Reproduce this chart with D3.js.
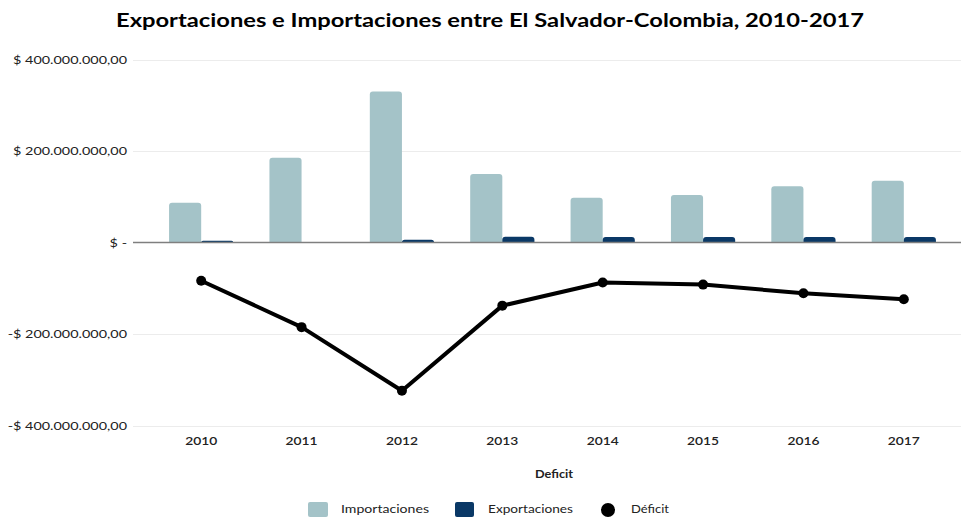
<!DOCTYPE html>
<html>
<head>
<meta charset="utf-8">
<script src="https://cdn.jsdelivr.net/npm/d3@7"></script>
<style>
  body { margin: 0; background: #fff; }
  svg { display: block; font-family: Lato, "Open Sans", sans-serif; }
</style>
</head>
<body>
<svg id="chart" width="961" height="518"></svg>
<script>
// Trade between El Salvador and Colombia, USD
const years = ["2010", "2011", "2012", "2013", "2014", "2015", "2016", "2017"];
const importaciones = [87e6, 185.5e6, 330e6, 150e6, 98e6, 104e6, 123e6, 135e6];
const exportaciones = [4e6, 0.5e6, 6e6, 12.5e6, 12e6, 12e6, 12e6, 12e6];
const deficit = [-83.5e6, -185e6, -324e6, -138e6, -87.5e6, -92e6, -111e6, -124e6];
const yTicks = [400e6, 200e6, 0, -200e6, -400e6];

const svg = d3.select("#chart");
const plotLeft = 133, plotRight = 961, plotTop = 59.5, plotBottom = 425.5;

const x = d3.scaleBand().domain(years).range([151, 954]).paddingInner(0.36).paddingOuter(0.18);
const x0 = d3.scaleBand().domain(years).range([151, 954]);
const y = d3.scaleLinear().domain([-400e6, 400e6]).range([plotBottom, plotTop]);

const fmt = v => {
  if (v === 0) return "$ -";
  const s = d3.format(",.2f")(Math.abs(v)).replace(/,/g, "#").replace(/\./g, ",").replace(/#/g, ".");
  return (v < 0 ? "-$ " : "$ ") + s;
};

// Widen text horizontally (the chart's labels use a wide face)
function widen(sel, k) {
  sel.each(function () {
    const len = this.getComputedTextLength();
    d3.select(this).attr("textLength", len * k).attr("lengthAdjust", "spacingAndGlyphs");
  });
}

// Title
svg.append("text")
  .attr("x", 490).attr("y", 27)
  .attr("text-anchor", "middle")
  .attr("font-size", 19).attr("font-weight", 700).attr("fill", "#000")
  .attr("textLength", 748).attr("lengthAdjust", "spacingAndGlyphs")
  .text("Exportaciones e Importaciones entre El Salvador-Colombia, 2010-2017");

// Gridlines
svg.append("g").selectAll("line")
  .data(yTicks.filter(d => d !== 0))
  .join("line")
  .attr("x1", plotLeft).attr("x2", plotRight)
  .attr("y1", d => Math.round(y(d)) + 0.5).attr("y2", d => Math.round(y(d)) + 0.5)
  .attr("stroke", "#ececec").attr("stroke-width", 1);

// Y tick labels
svg.append("g").selectAll("text")
  .data(yTicks)
  .join("text")
  .attr("x", 127).attr("y", d => y(d) + 4)
  .attr("text-anchor", "end")
  .attr("font-size", 12).attr("fill", "#222")
  .text(fmt)
  .call(widen, 1.2);

const bw = x.bandwidth() / 2;

// Rounded-top bar path
function barPath(x1, w, v) {
  const y0 = y(0), y1 = y(v);
  const h = y0 - y1;
  const r = Math.min(3, h, w / 2);
  return `M${x1},${y0}V${y1 + r}Q${x1},${y1} ${x1 + r},${y1}H${x1 + w - r}Q${x1 + w},${y1} ${x1 + w},${y1 + r}V${y0}Z`;
}

svg.append("g").selectAll("path")
  .data(years)
  .join("path")
  .attr("d", (d, i) => barPath(x(d), bw, importaciones[i]))
  .attr("fill", "#a4c3c8");

svg.append("g").selectAll("path")
  .data(years)
  .join("path")
  .attr("d", (d, i) => barPath(x(d) + bw, bw, exportaciones[i]))
  .attr("fill", "#0a3866");

// Zero axis
svg.append("line")
  .attr("x1", plotLeft).attr("x2", plotRight)
  .attr("y1", y(0)).attr("y2", y(0))
  .attr("stroke", "#7f7f7f").attr("stroke-width", 1.5);

// X tick labels
svg.append("g").selectAll("text")
  .data(years)
  .join("text")
  .attr("x", d => x0(d) + x0.bandwidth() / 2)
  .attr("y", 445)
  .attr("text-anchor", "middle")
  .attr("font-size", 12).attr("font-weight", 600).attr("fill", "#222")
  .text(d => d)
  .call(widen, 1.15);

// Deficit line
const line = d3.line()
  .x((d, i) => x0(years[i]) + x0.bandwidth() / 2)
  .y(d => y(d));

svg.append("path")
  .datum(deficit)
  .attr("d", line)
  .attr("fill", "none")
  .attr("stroke", "#000").attr("stroke-width", 4)
  .attr("stroke-linejoin", "round");

svg.append("g").selectAll("circle")
  .data(deficit)
  .join("circle")
  .attr("cx", (d, i) => x0(years[i]) + x0.bandwidth() / 2)
  .attr("cy", d => y(d))
  .attr("r", 5)
  .attr("fill", "#000");

// Axis title
svg.append("text")
  .attr("x", 554).attr("y", 478)
  .attr("text-anchor", "middle")
  .attr("font-size", 11).attr("font-weight", 700).attr("fill", "#222")
  .attr("textLength", 38).attr("lengthAdjust", "spacingAndGlyphs")
  .text("Deficit");

// Legend
const lg = svg.append("g").attr("font-size", 12).attr("fill", "#222");
lg.append("rect").attr("x", 308).attr("y", 502).attr("width", 20).attr("height", 15).attr("rx", 2).attr("fill", "#a4c3c8");
lg.append("text").attr("x", 341).attr("y", 513).attr("textLength", 88).attr("lengthAdjust", "spacingAndGlyphs").text("Importaciones");
lg.append("rect").attr("x", 455).attr("y", 502).attr("width", 19).attr("height", 15).attr("rx", 2).attr("fill", "#0a3866");
lg.append("text").attr("x", 488).attr("y", 513).attr("textLength", 85).attr("lengthAdjust", "spacingAndGlyphs").text("Exportaciones");
lg.append("circle").attr("cx", 608).attr("cy", 510).attr("r", 7).attr("fill", "#000");
lg.append("text").attr("x", 631).attr("y", 513).attr("textLength", 38).attr("lengthAdjust", "spacingAndGlyphs").text("Déficit");
</script>
</body>
</html>
